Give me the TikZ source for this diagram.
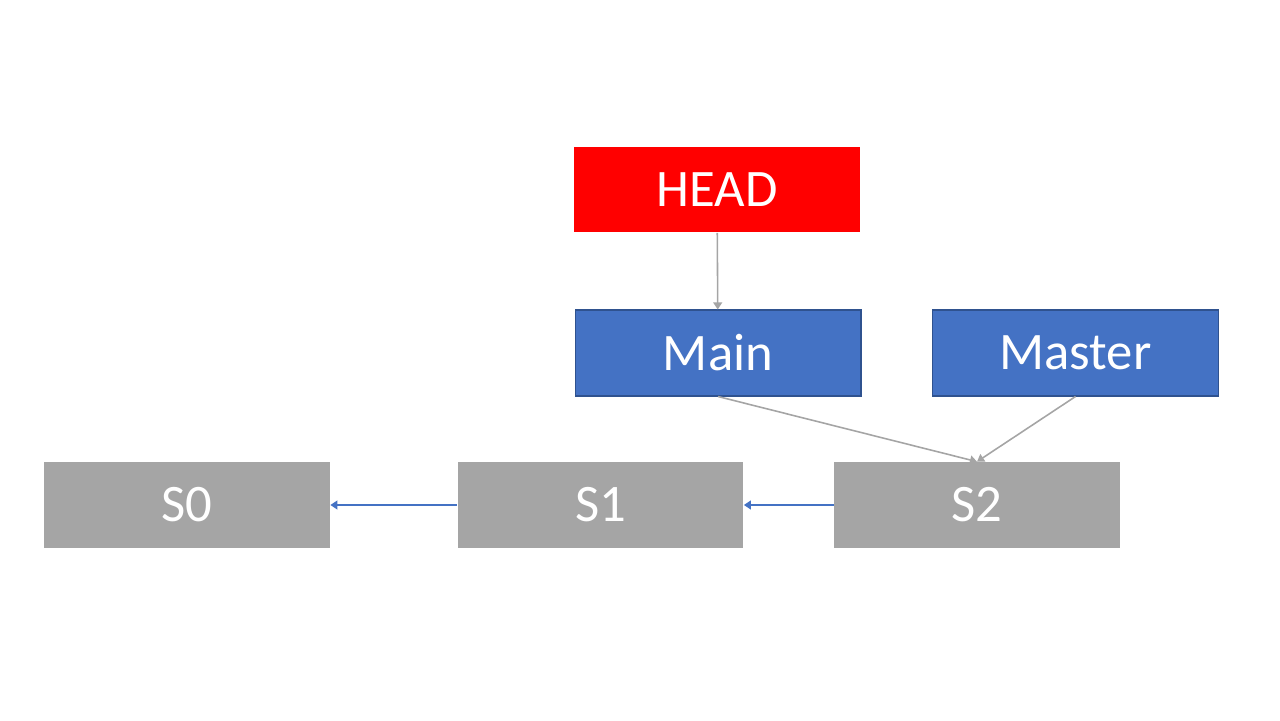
\documentclass[tikz,border=0pt]{standalone}
\usepackage{fontspec}
\setmainfont{Carlito}
\usetikzlibrary{arrows.meta}
\definecolor{headred}{RGB}{255,0,0}
\definecolor{branchblue}{RGB}{68,114,196}
\definecolor{branchedge}{RGB}{47,82,143}
\definecolor{commitgrey}{RGB}{165,165,165}
\begin{document}
\begin{tikzpicture}[x=0.02cm, y=-0.02cm]
\tikzstyle{box} = [minimum width=5.72cm, minimum height=1.72cm, inner sep=0pt,
  text=white, font=\fontsize{30}{36}\selectfont]
\tikzstyle{headbox} = [box, fill=headred]
\tikzstyle{branch} = [box, fill=branchblue, draw=branchedge, line width=0.6pt]
\tikzstyle{commit} = [box, fill=commitgrey]
\tikzstyle{ptr} = [draw, line width=0.9pt, -{Triangle[width=5pt,length=4pt]}]
  \useasboundingbox (0,0) rectangle (1280,720);
  \node[headbox] (head) at (717,189.5) {HEAD};
  \node[branch] (main) at (718,353) {Main};
  \node[branch] (master) at (1075.5,353) {Master};
  \foreach \i/\x in {0/187,1/600.5,2/977}{
    \node[commit] (s\i) at (\x,505) {S\i};
  }
  \draw[ptr,commitgrey] (head) -- (main);
  \draw[ptr,commitgrey] (main.south) -- (s2.north);
  \draw[ptr,commitgrey] (master.south) -- (s2.north);
  \draw[ptr,branchblue] (s1) -- (s0);
  \draw[ptr,branchblue] (s2) -- (s1);
\end{tikzpicture}
\end{document}
